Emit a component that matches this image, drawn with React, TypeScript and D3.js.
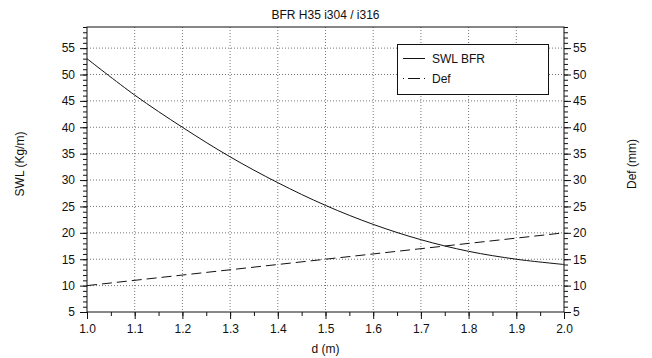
import React, { useEffect, useRef } from "react";
import * as d3 from "d3";

const title = "BFR H35 i304 / i316";
const xLabel = "d (m)";
const yLeftLabel = "SWL (Kg/m)";
const yRightLabel = "Def (mm)";
const dValues = [1.0, 1.1, 1.2, 1.3, 1.4, 1.5, 1.6, 1.7, 1.8, 1.9, 2.0];
const swlValues = [53, 46.1, 40, 34.4, 29.5, 25.2, 21.6, 18.7, 16.5, 15, 14];
const defD = [1.0, 2.0];
const defValues = [10, 20];
const xTicks = [1.0, 1.1, 1.2, 1.3, 1.4, 1.5, 1.6, 1.7, 1.8, 1.9, 2.0];
const yTicks = [5, 10, 15, 20, 25, 30, 35, 40, 45, 50, 55];
const legendLabels = ["SWL BFR", "Def"];

const W = 652, H = 358;
const M = { left: 87, right: 564, top: 27, bottom: 312 };
const FONT = "'Liberation Sans', Arial, Helvetica, sans-serif";

export default function App() {
  const ref = useRef<SVGSVGElement>(null);
  useEffect(() => {
    const svg = d3.select(ref.current);
    svg.selectAll("*").remove();
    const x = d3.scaleLinear().domain([1.0, 2.0]).range([M.left, M.right]);
    const y = d3.scaleLinear().domain([5, 59]).range([M.bottom, M.top]);

    const g = svg.append("g").attr("font-family", FONT);

    // grid
    const grid = g.append("g").attr("stroke", "#777").attr("stroke-width", 1).attr("stroke-dasharray", "1,2");
    xTicks.slice(1, -1).forEach((t) => {
      grid.append("line").attr("x1", x(t)).attr("x2", x(t)).attr("y1", M.top).attr("y2", M.bottom);
    });
    yTicks.slice(1).forEach((t) => {
      grid.append("line").attr("x1", M.left).attr("x2", M.right).attr("y1", y(t)).attr("y2", y(t));
    });

    // lines
    const line = d3.line<[number, number]>().x((d) => x(d[0])).y((d) => y(d[1])).curve(d3.curveCatmullRom);
    g.append("path")
      .datum(dValues.map((d, i) => [d, swlValues[i]] as [number, number]))
      .attr("d", line).attr("fill", "none").attr("stroke", "#111").attr("stroke-width", 1);
    g.append("path")
      .datum(defD.map((d, i) => [d, defValues[i]] as [number, number]))
      .attr("d", d3.line<[number, number]>().x((d) => x(d[0])).y((d) => y(d[1])))
      .attr("fill", "none").attr("stroke", "#111").attr("stroke-width", 1).attr("stroke-dasharray", "10,5");

    // frame
    g.append("rect").attr("x", M.left).attr("y", M.top).attr("width", M.right - M.left).attr("height", M.bottom - M.top)
      .attr("fill", "none").attr("stroke", "#111").attr("stroke-width", 1);

    const styleAxis = (sel: any) => {
      sel.select(".domain").remove();
      sel.selectAll("line").attr("stroke", "#111");
      sel.selectAll("text").attr("font-size", 12).attr("fill", "#111").attr("font-family", FONT);
    };

    const minorY = d3.range(5, 60, 1);
    const minorX = d3.range(1.0, 2.001, 0.05);

    // bottom
    g.append("g").attr("transform", `translate(0,${M.bottom})`)
      .call(d3.axisBottom(x).tickValues(minorX).tickSize(4).tickFormat(() => "")).call(styleAxis);
    g.append("g").attr("transform", `translate(0,${M.bottom})`)
      .call(d3.axisBottom(x).tickValues(xTicks).tickSize(7).tickPadding(5).tickFormat(d3.format(".1f"))).call(styleAxis);
    // left
    g.append("g").attr("transform", `translate(${M.left},0)`)
      .call(d3.axisLeft(y).tickValues(minorY).tickSize(4).tickFormat(() => "")).call(styleAxis);
    g.append("g").attr("transform", `translate(${M.left},0)`)
      .call(d3.axisLeft(y).tickValues(yTicks).tickSize(7).tickPadding(5).tickFormat(d3.format("d"))).call(styleAxis);
    // right
    g.append("g").attr("transform", `translate(${M.right},0)`)
      .call(d3.axisRight(y).tickValues(minorY).tickSize(4).tickFormat(() => "")).call(styleAxis);
    g.append("g").attr("transform", `translate(${M.right},0)`)
      .call(d3.axisRight(y).tickValues(yTicks).tickSize(7).tickPadding(2).tickFormat(d3.format("d"))).call(styleAxis);

    // title & labels
    g.append("text").attr("x", (M.left + M.right) / 2).attr("y", 19).attr("text-anchor", "middle")
      .attr("font-size", 12).attr("fill", "#111").text(title);
    g.append("text").attr("x", (M.left + M.right) / 2).attr("y", 353).attr("text-anchor", "middle")
      .attr("font-size", 12).attr("fill", "#111").text(xLabel);
    g.append("text").attr("transform", `translate(24,164) rotate(-90)`).attr("text-anchor", "middle")
      .attr("font-size", 12).attr("fill", "#111").text(yLeftLabel);
    g.append("text").attr("transform", `translate(636,164) rotate(-90)`).attr("text-anchor", "middle")
      .attr("font-size", 12).attr("fill", "#111").text(yRightLabel);

    // legend
    const lg = g.append("g");
    lg.append("rect").attr("x", 397.5).attr("y", 44.5).attr("width", 151).attr("height", 50)
      .attr("fill", "white").attr("stroke", "#111").attr("stroke-width", 1);
    legendLabels.forEach((lab, i) => {
      const yy = 58.5 + i * 20;
      lg.append("line").attr("x1", 403).attr("x2", 425).attr("y1", yy).attr("y2", yy)
        .attr("stroke", "#111").attr("stroke-width", 1)
        .attr("stroke-dasharray", i === 1 ? "1,4,12,4" : null);
      lg.append("text").attr("x", 432).attr("y", yy + 4.5).attr("font-size", 12).attr("fill", "#111").text(lab);
    });
  }, []);
  return (
    <svg ref={ref} width={W} height={H} style={{ position: "absolute", left: 0, top: 0, background: "white" }} />
  );
}
